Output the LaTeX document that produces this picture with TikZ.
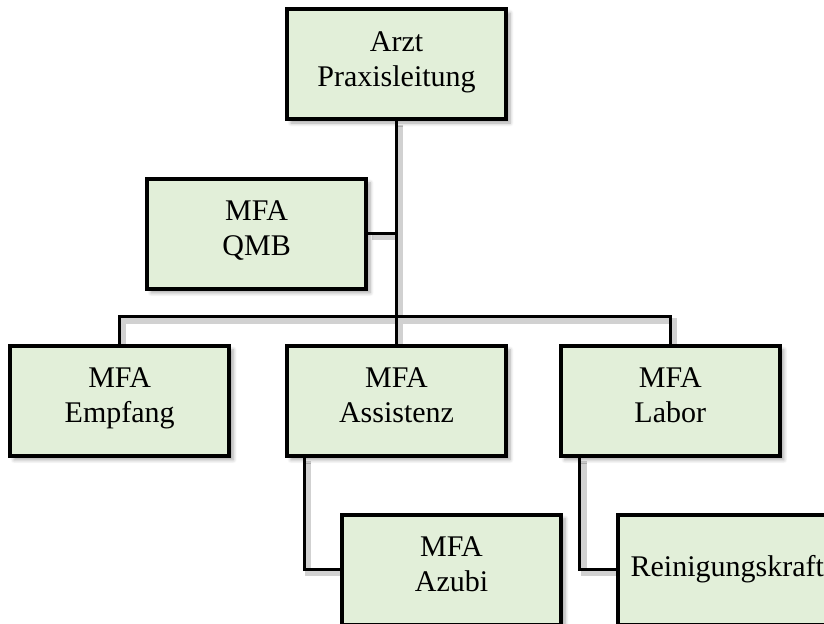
\documentclass[tikz,border=0pt]{standalone}
\usepackage{fontspec}
\setmainfont{Liberation Serif}
\usetikzlibrary{positioning,shadows.blur,backgrounds}
\definecolor{boxgreen}{RGB}{226,239,217}

\begin{document}
\begin{tikzpicture}[node distance={27pt},
  main/.style = {draw, line width=1.9pt, fill=boxgreen, minimum width=109.5pt, minimum height=55pt, align=center, font=\fontsize{15}{17.5}\selectfont, execute at end node=\strut, blur shadow={shadow xshift=2pt, shadow yshift=-2pt, shadow blur steps=6, shadow opacity=35}},
  link/.style = {line width=1.5pt},
  linkshadow/.style = {draw=black!18, line width=3pt}]
\clip (0,0) rectangle (412pt,-311.5pt);
\node[main] (arzt) at (198.25pt,-32pt) {Arzt\\Praxisleitung};
\node[main] (qmb) [below left=28pt and 14.25pt of arzt.south] {MFA\\QMB};
\node[main] (assist) [below=111.5pt of arzt] {MFA\\Assistenz};
\node[main] (empfang) [left=of assist] {MFA\\Empfang};
\node[main] (labor) [right=25.5pt of assist] {MFA\\Labor};
\node[main] (azubi) [below right=27.5pt and 27.5pt of assist.south west] {MFA\\Azubi};
\node[main] (reinigung) [below right=27.5pt and 28.5pt of labor.south west] {Reinigungskraft};
\coordinate (bar) at ([yshift=13.5pt]assist.north);
\newcommand\orglinks[1]{
  \draw[#1] (arzt.south) -- (assist.north);
  \draw[#1] (qmb.east) -- (qmb.east -| arzt.south);
  \draw[#1] (empfang.north) |- (bar) -| (labor.north);
  \draw[#1] ([xshift=9.5pt]assist.south west) |- (azubi.west);
  \draw[#1] ([xshift=10.5pt]labor.south west) |- (reinigung.west);
}
\begin{scope}[on background layer]
\begin{scope}[transform canvas={shift={(1.8pt,-1.8pt)}}]
\orglinks{linkshadow}
\end{scope}
\orglinks{link}
\end{scope}
\end{tikzpicture}
\end{document}
